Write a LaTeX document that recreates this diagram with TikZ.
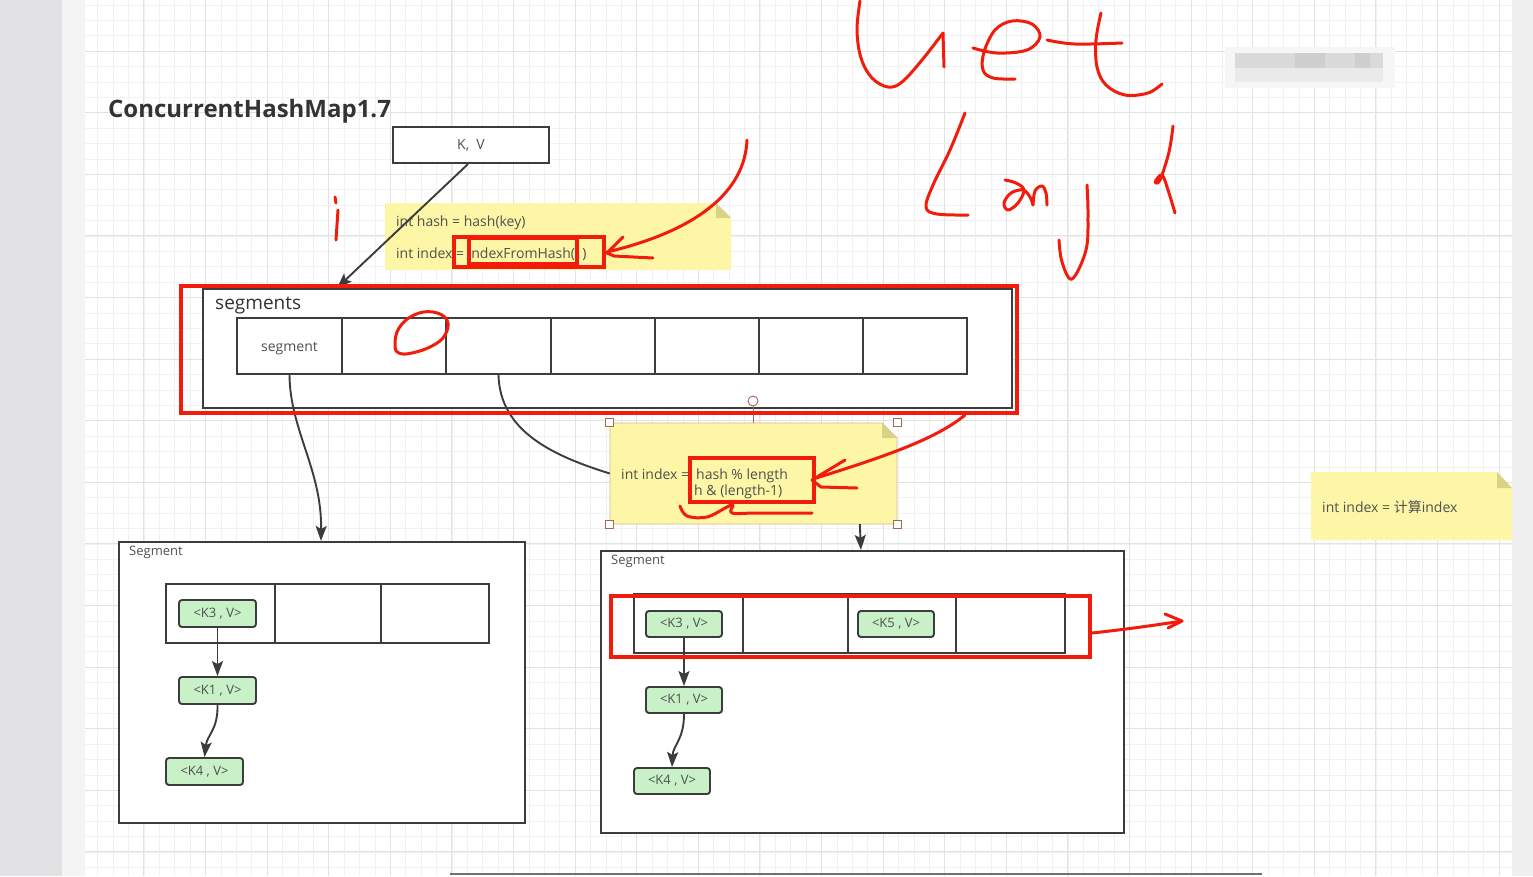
\documentclass[tikz,border=0pt]{standalone}
\usepackage{fontspec}
\setmainfont{Open Sans}
\newfontfamily\cjk{Noto Sans CJK SC}
\usetikzlibrary{arrows.meta,calc}
\definecolor{boxc}{HTML}{3C3C3C}
\definecolor{txtc}{HTML}{505050}
\definecolor{titlec}{HTML}{333333}
\definecolor{notec}{HTML}{FDF6A6}
\definecolor{foldc}{HTML}{D9D184}
\definecolor{greenc}{HTML}{C8F1C8}
\definecolor{redc}{HTML}{F21C0C}
\definecolor{gmin}{HTML}{F1F1F1}
\definecolor{gmaj}{HTML}{E2E2E2}
\definecolor{handlec}{HTML}{A06A58}
\definecolor{noteedge}{HTML}{D8B89A}
\definecolor{stripA}{HTML}{E2E2E4}
\definecolor{stripB}{HTML}{F4F4F4}
\definecolor{stripC}{HTML}{F0F0F0}
\definecolor{bottomc}{HTML}{707070}
\definecolor{blurA}{HTML}{F6F6F6}
\definecolor{blurB}{HTML}{DADADA}
\definecolor{blurC}{HTML}{EAEAEA}
\definecolor{blurD}{HTML}{CFCFCF}
\newcommand\mkbox[7]{\node[#1, minimum width={(#5-#3)*1pt}, minimum height={(#6-#4)*1pt}] (#2) at ({(#3+#5)/2},{(#4+#6)/2}) {#7};}
\tikzset{
  box/.style={draw=boxc, line width=2.1pt, fill=white, inner sep=0pt},
  cellbox/.style={draw=boxc, line width=2.1pt, inner sep=0pt, text=txtc, font=\fontsize{14}{16}\selectfont},
  kvnode/.style={draw=boxc, line width=1.9pt, fill=greenc, rounded corners=3pt, inner sep=0pt, text=txtc, font=\fontsize{13}{15}\selectfont},
  ghost/.style={inner sep=0pt},
  txt/.style={text=txtc, inner sep=0pt, anchor=base west, font=\fontsize{14}{16}\selectfont},
  redbox/.style={draw=redc, line width=3.2pt},
  hand/.style={draw=redc, line width=3pt, line cap=round, line join=round},
  conn/.style={draw=boxc, line width=1.9pt, -{Stealth[length=15pt,width=11pt,inset=3pt]}},
  link/.style={draw=boxc, line width=1.9pt},
  handle/.style={draw=handlec, fill=white, line width=0.8pt, minimum size=8pt, inner sep=0pt},
}
\begin{document}
\begin{tikzpicture}[x=1pt,y=-1pt]
\useasboundingbox (0,0) rectangle (1533,876);
% background
\fill[white] (0,0) rectangle (1533,876);
\fill[stripA] (0,0) rectangle (62,876);
\fill[stripB] (62,0) rectangle (85,876);
\fill[stripC] (1512,0) rectangle (1533,876);
\foreach \k in {5,...,96} \draw[gmin, line width=0.8pt] ({20.7+15.4*\k},0) -- ++(0,876);
\foreach \k in {-3,...,53} \draw[gmin, line width=0.8pt] (85,{51.1+15.4*\k}) -- (1512,{51.1+15.4*\k});
\foreach \m in {2,...,24} \draw[gmaj, line width=0.9pt] ({20.7+61.6*\m},0) -- ++(0,876);
\foreach \m in {0,...,13} \draw[gmaj, line width=0.9pt] (85,{51.1+61.6*\m}) -- (1512,{51.1+61.6*\m});
\draw[bottomc, line width=1.5pt] (450,874) -- (1262,874);
% blurred patch
\fill[blurA] (1225,47) rectangle (1395,88);
\fill[blurB] (1235,53) rectangle (1383,68);
\fill[blurC] (1235,68) rectangle (1383,82);
\fill[blurD] (1295,53) rectangle (1325,68);
\fill[blurD] (1355,53) rectangle (1370,68);

% title
\node[anchor=base west, inner sep=0pt, text=titlec, font=\fontsize{24}{28}\selectfont\bfseries] (title) at (108,117) {ConcurrentHashMap1.7};

% K,V box
\mkbox{box, text=txtc, font=\fontsize{14}{16}\selectfont}{kv}{393}{127}{549}{163}{K,\ \ V}

% note 1
\mkbox{ghost}{note1}{385}{203}{731}{270}{}
\fill[notec] (385,203) -- (716,203) -- (731,218) -- (731,270) -- (385,270) -- cycle;
\fill[foldc] (716,203) -- (731,218) -- (716,218) -- cycle;
\node[txt] (n1a) at (396,226) {int hash = hash(key)};
\node[txt] (n1b) at (396,258) {int index = indexFromHash(\ \ )};

% segments container
\mkbox{box}{segs}{203}{289}{1012}{408}{}
\node[txt, font=\fontsize{19}{22}\selectfont, text=titlec] (segslabel) at (215,309) {segments};
\mkbox{cellbox}{c1}{237}{318}{342}{374}{\raisebox{-5pt}[0pt][0pt]{segment}}
\mkbox{cellbox}{c2}{342}{318}{446}{374}{}
\mkbox{cellbox}{c3}{446}{318}{551}{374}{}
\mkbox{cellbox}{c4}{551}{318}{655}{374}{}
\mkbox{cellbox}{c5}{655}{318}{759}{374}{}
\mkbox{cellbox}{c6}{759}{318}{863}{374}{}
\mkbox{cellbox}{c7}{863}{318}{967}{374}{}

% left Segment
\mkbox{box}{segL}{119}{542}{525}{823}{}
\node[txt, font=\fontsize{13}{15}\selectfont] (segLlabel) at (129,555) {Segment};
\mkbox{cellbox}{la1}{166}{584}{275}{643}{}
\mkbox{cellbox}{la2}{275}{584}{381}{643}{}
\mkbox{cellbox}{la3}{381}{584}{489}{643}{}
\mkbox{kvnode}{lk3}{179}{600}{256}{627}{<K3 , V>}
\mkbox{kvnode}{lk1}{179}{677}{256}{704}{<K1 , V>}
\mkbox{kvnode}{lk4}{166}{758}{243}{785}{<K4 , V>}

% right Segment
\mkbox{box}{segR}{601}{551}{1124}{833}{}
\node[txt, font=\fontsize{13}{15}\selectfont] (segRlabel) at (611,564) {Segment};
\mkbox{cellbox}{ra1}{634}{594}{743}{653}{}
\mkbox{cellbox}{ra2}{743}{594}{848}{653}{}
\mkbox{cellbox}{ra3}{848}{594}{956}{653}{}
\mkbox{cellbox}{ra4}{956}{594}{1065}{653}{}
\mkbox{kvnode}{rk3}{646}{611}{722}{637}{<K3 , V>}
\mkbox{kvnode}{rk5}{858}{611}{934}{637}{<K5 , V>}
\mkbox{kvnode}{rk1}{646}{687}{722}{713}{<K1 , V>}
\mkbox{kvnode}{rk4}{634}{768}{710}{794}{<K4 , V>}

% note 2 (selected)
\mkbox{ghost}{note2}{610}{423}{897}{524}{}
\filldraw[fill=notec, draw=noteedge, line width=0.8pt] (610,423) -- (882,423) -- (897,438) -- (897,524) -- (610,524) -- cycle;
\fill[foldc] (882,423) -- (897,438) -- (882,438) -- cycle;
\node[txt] (n2a) at (621,479) {int index =};
\node[txt] (n2b) at (696,479) {hash \% length};
\node[txt] (n2c) at (694,495) {h \& (length-1)};
\node[handle] (h1) at (note2.north west) {};
\node[handle] (h2) at (note2.north east) {};
\node[handle] (h3) at (note2.south west) {};
\node[handle] (h4) at (note2.south east) {};
\node[draw=handlec, fill=white, circle, line width=0.9pt, minimum size=10pt, inner sep=0pt] (rot) at (753,401) {};
\draw[handlec, line width=0.8pt] (rot.south) -- (rot.south |- note2.north);

% right note
\mkbox{ghost}{note3}{1311}{472}{1512}{540}{}
\fill[notec] (1311,472) -- (1497,472) -- (1512,488) -- (1512,540) -- (1311,540) -- cycle;
\fill[foldc] (1497,472) -- (1512,488) -- (1497,488) -- cycle;
\node[txt] (n3) at (1322,512) {int index = {\cjk 计算}index};

% connectors
\draw[conn] ([xshift=-3pt]kv.south) -- ($(segs.north west)+(135,0)$);
\draw[conn] (c1.south) .. controls (290,430) and (322,470) .. ($(segL.north west)+(203,0)$);
\draw[link] (c3.south) .. controls (500,430) and (550,455) .. (note2.west);
\draw[conn] ($(note2.south west)+(250,0)$) -- ($(segR.north west)+(261,0)$);
\draw[conn] (lk3.south) -- (lk1.north);
\draw[conn] (lk1.south) .. controls (218,730) and (207,735) .. (lk4.north);
\draw[conn] (rk3.south) -- (rk1.north);
\draw[conn] (rk1.south) .. controls (684,740) and (673,745) .. (rk4.north);

% red annotations
\draw[redbox] (181,286) rectangle (1017,413);
\draw[redbox] (454,237) rectangle (604,267);
\draw[redbox] (469,238) rectangle (577,264);
\draw[redbox] (690,458) rectangle (814,502);
\draw[redbox] (611,596) rectangle (1090,657);
% arrows
\draw[hand] (747,140) .. controls (745,190) and (700,230) .. (607,252);
\draw[hand] (623,237) -- (607,253) -- (614,256) -- (653,258);
\draw[hand] (965,415) .. controls (935,440) and (880,458) .. (813,479);
\draw[hand] (845,460) -- (812,480) -- (821,487) -- (857,488);
\draw[hand] plot[smooth, tension=0.6] coordinates {(680,506) (687,516) (707,517) (727,507) (733,505) (732,513) (757,513) (812,513)};
\draw[hand] (1092,633) .. controls (1120,630) and (1150,626) .. (1182,621);
\draw[hand] (1165,614) -- (1182,621) -- (1168,628);
% "i"
\draw[hand] (335,197) -- (336,203);
\draw[hand] (338,210) -- (336,240);
% "0"
\draw[hand] plot[smooth cycle, tension=0.7] coordinates {(395,345) (399,328) (414,315) (433,312) (447,320) (445,335) (432,346) (412,353) (399,353)};
% "Get Length"
\draw[hand] plot[smooth, tension=0.6] coordinates {(860,1) (857,30) (861,58) (872,78) (888,87) (902,82) (922,60) (943,33)};
\draw[hand] (943,33) -- (944,67);
\draw[hand] plot[smooth, tension=0.6] coordinates {(973,48) (997,53) (1027,50) (1040,37) (1032,24) (1012,21) (995,30) (984,52) (983,70) (993,78) (1015,79)};
\draw[hand] plot[smooth, tension=0.6] coordinates {(1047,40) (1075,44) (1122,43)};
\draw[hand] plot[smooth, tension=0.6] coordinates {(1101,13) (1096,40) (1097,67) (1106,85) (1125,95) (1148,93) (1162,84)};
\draw[hand] plot[smooth, tension=0.6] coordinates {(965,113) (950,150) (933,185) (926,207) (937,214) (968,215)};
\draw[hand] plot[smooth, tension=0.6] coordinates {(1005,180) (1016,183) (1024,190) (1018,203) (1008,210) (1004,203) (1011,193) (1023,190) (1030,197) (1033,205)};
\draw[hand] plot[smooth, tension=0.6] coordinates {(1033,205) (1035,191) (1042,186) (1046,193) (1047,205)};
\draw[hand] plot[smooth, tension=0.6] coordinates {(1087,185) (1088,215) (1086,250) (1072,279) (1062,262) (1059,240)};
\draw[hand] plot[smooth, tension=0.6] coordinates {(1173,126) (1169,152) (1160,180) (1155,182) (1162,175) (1168,190) (1175,213)};
\end{tikzpicture}
\end{document}
